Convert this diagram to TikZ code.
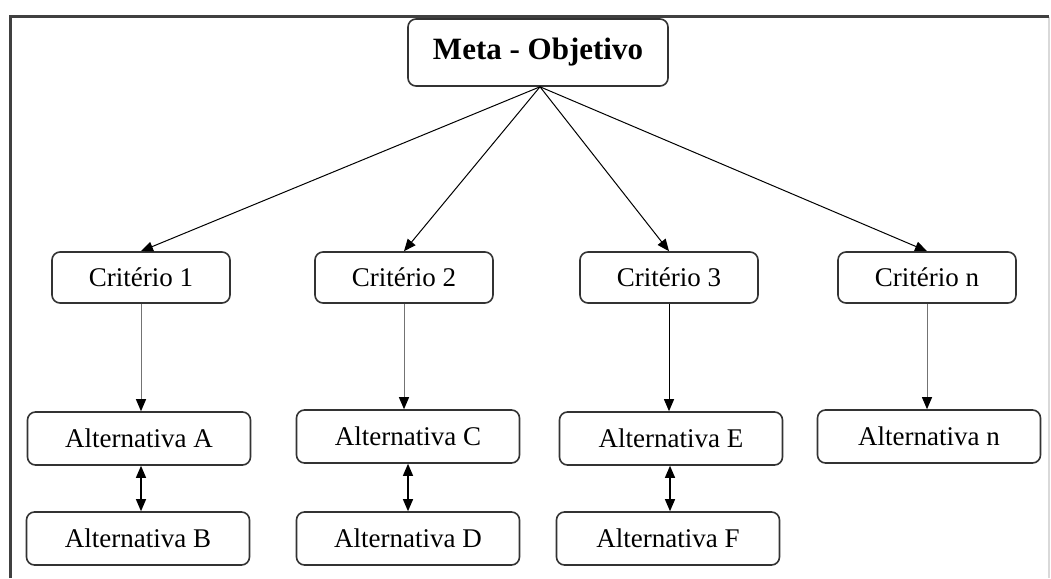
\documentclass[tikz,border=0pt]{standalone}
\usepackage{fontspec}
\setmainfont{Liberation Serif}
\usetikzlibrary{arrows.meta}
\begin{document}
\begin{tikzpicture}[x=1pt,y=-1pt,
  box/.style={draw=black!80,line width=1.6pt,rounded corners=8pt,fill=white,inner sep=0pt,
    font=\fontsize{27}{30}\selectfont},
  crit/.style={box,minimum width=178pt,minimum height=51pt},
  alt/.style={box,minimum width=223pt,minimum height=53pt},
  conn/.style={line width=1pt,-{Triangle[length=12pt,width=10pt,color=black]}},
  dconn/.style={line width=1.2pt,{Triangle[length=12pt,width=10pt]}-{Triangle[length=12pt,width=10pt]}}]
\useasboundingbox (0,0) rectangle (1051,578);
\fill[white] (0,0) rectangle (1051,578);
% frame
\draw[black!15,line width=1.5pt] (1049,17) -- (1049,578);
\draw[black!75,line width=3pt] (10,578) -- (10,17) -- (1049,17);
% nodes
\node[box,minimum width=260pt,minimum height=67pt,font=\fontsize{31}{34}\selectfont\bfseries] (meta) at (538,52.5) {Meta - Objetivo};
\node[crit] (c1) at (141,277.5) {Critério 1};
\node[crit] (c2) at (404,277.5) {Critério 2};
\node[crit] (c3) at (669,277.5) {Critério 3};
\node[crit] (cn) at (927,277.5) {Critério n};
\node[alt] (aA) at (139,438.5) {Alternativa A};
\node[alt] (aC) at (408,436.5) {Alternativa C};
\node[alt] (aE) at (671,438.5) {Alternativa E};
\node[alt] (an) at (929,436.5) {Alternativa n};
\node[alt] (aB) at (138,538.5) {Alternativa B};
\node[alt] (aD) at (408,538.5) {Alternativa D};
\node[alt] (aF) at (668,538.5) {Alternativa F};
% connectors
\coordinate (o) at ([xshift=2pt]meta.south);
\foreach \c in {c1,c2,c3,cn} \draw[conn] (o) -- (\c.north);
\draw[conn,draw=black!55] (c1.south) -- (c1.south |- aA.north);
\draw[conn,draw=black!55] (c2.south) -- (c2.south |- aC.north);
\draw[conn] (c3.south) -- (c3.south |- aE.north);
\draw[conn,draw=black!55] (cn.south) -- (cn.south |- an.north);
\draw[dconn] ([xshift=2pt]aA.south) -- ([xshift=3pt]aB.north);
\draw[dconn] (aC.south) -- (aD.north);
\draw[dconn] ([xshift=-1pt]aE.south) -- ([xshift=2pt]aF.north);
\end{tikzpicture}
\end{document}
